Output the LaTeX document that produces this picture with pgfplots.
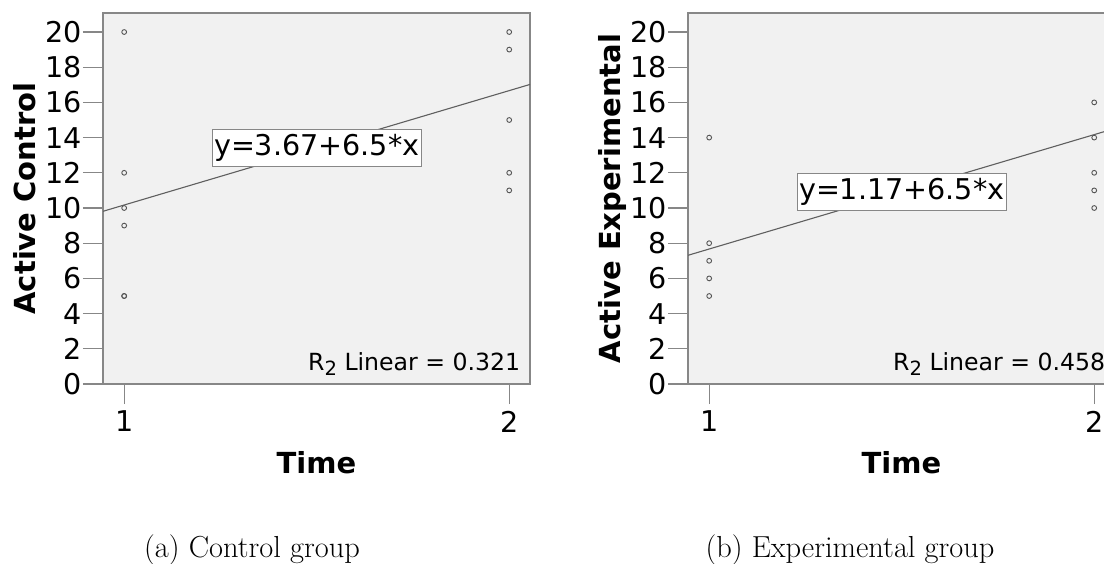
\documentclass[border=0pt]{standalone}
\usepackage{pgfplots}
\pgfplotsset{compat=1.18}
\usepackage{fontspec}
\newfontfamily\chartfont{DejaVu Sans}

\definecolor{panelbg}{RGB}{241,241,241}
\definecolor{framegray}{RGB}{135,135,135}
\definecolor{pointgray}{RGB}{85,85,85}
\definecolor{fitgray}{RGB}{95,95,95}

\newcommand{\labelfont}{\chartfont\bfseries\fontsize{14.5}{17}\selectfont}

\pgfplotsset{
  spssplot/.style={
    anchor=south west,
    scale only axis,
    width=213.5pt, height=185.5pt,
    xmin=0.945, xmax=2.054,
    ymin=0, ymax=21.08,
    xtick={1,2}, ytick={0,2,...,20},
    tick align=outside,
    major tick length=10pt,
    xtick pos=bottom, ytick pos=left,
    axis line style={framegray, line width=0.6pt},
    every tick/.style={framegray, line width=0.6pt},
    axis background/.style={fill=panelbg},
    /pgf/number format/assume math mode=true,
    ticklabel style={font=\chartfont\fontsize{14.3}{16}\selectfont},
    yticklabel style={inner xsep=0.5pt},
    every axis y label/.style={at={(axis description cs:-0.159,0.5)},
      rotate=90, anchor=base, font=\labelfont},
    every axis x label/.style={at={(axis description cs:0.5,-0.24)},
      anchor=base, font=\labelfont},
    xlabel={Time},
  },
  points/.style={only marks, mark=o, mark size=1.2pt,
    mark options={pointgray, line width=0.45pt}},
  fitline/.style={no marks, fitgray, line width=0.55pt},
}
\tikzset{
  eqbox/.style={draw=framegray, fill=white, line width=0.5pt,
    inner xsep=1pt, inner ysep=2.6pt,
    font=\chartfont\fontsize{14.3}{16}\selectfont},
  rsq/.style={anchor=base east, inner sep=0pt,
    font=\chartfont\fontsize{11.8}{13}\selectfont},
  subcap/.style={anchor=base, font=\fontsize{15.2}{18}\selectfont},
}

\newcommand{\rtwo}{R\raisebox{-0.45ex}{\fontsize{9.8}{10}\selectfont 2}}

\begin{document}
\begin{tikzpicture}
% page frame: the right panel runs past the edge and is cut there
\useasboundingbox (0pt,0pt) rectangle (552pt,281.5pt);
\clip (0pt,0pt) rectangle (552pt,281.5pt);

% Control group
\begin{axis}[spssplot, at={(51.5pt,89.5pt)}, ylabel={Active Control}]
  \addplot[points] coordinates {
    (1,20) (1,12) (1,10) (1,9) (1,5) (1,5)
    (2,20) (2,19) (2,15) (2,12) (2,11)
  };
  \addplot[fitline] coordinates {(0.945,9.8125) (2.054,17.021)};
  \node[eqbox] at (axis cs:1.5,13.42) {y=3.67+6.5*x};
  \node[rsq, xshift=-4.7pt, yshift=7pt] at (rel axis cs:1,0) {\rtwo{} Linear = 0.321};
\end{axis}

% Experimental group
\begin{axis}[spssplot, at={(344pt,89.5pt)}, ylabel={Active Experimental}]
  \addplot[points] coordinates {
    (1,14) (1,8) (1,7) (1,6) (1,5)
    (2,16) (2,14) (2,12) (2,11) (2,10)
  };
  \addplot[fitline] coordinates {(0.945,7.3125) (2.054,14.521)};
  \node[eqbox] at (axis cs:1.5,10.92) {y=1.17+6.5*x};
  \node[rsq, xshift=-4.7pt, yshift=7pt] at (rel axis cs:1,0) {\rtwo{} Linear = 0.458};
\end{axis}

% sub-captions
\node[subcap] at (126pt,3pt) {(a) Control group};
\node[subcap] at (425pt,3pt) {(b) Experimental group};
\end{tikzpicture}
\end{document}
